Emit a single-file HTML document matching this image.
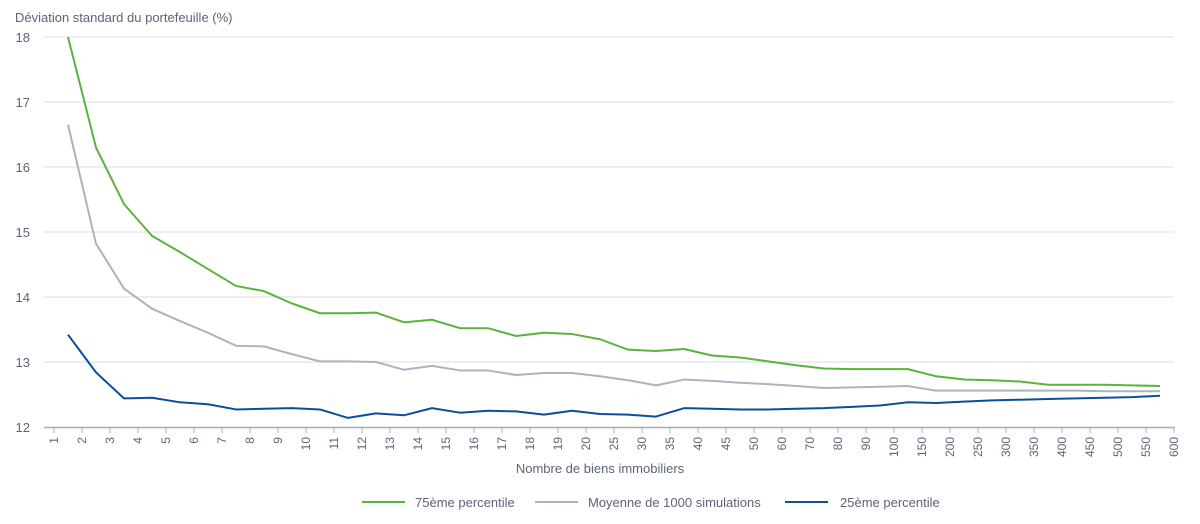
<!DOCTYPE html>
<html><head><meta charset="utf-8"><style>
body{margin:0;background:#fff;font-family:"Liberation Sans",sans-serif}
svg text{font-family:"Liberation Sans",sans-serif;fill:#5b6478}
</style></head><body>
<svg id="c" width="1200" height="519">
<text x="15" y="22" font-size="13">Déviation standard du portefeuille (%)</text>
<text x="600" y="473" font-size="13" text-anchor="middle">Nombre de biens immobiliers</text>
<g id="grid"></g><g id="xt"></g><g id="lines"></g>
<g>
<line x1="362" y1="502" x2="405" y2="502" stroke="#5bb33e" stroke-width="2"/>
<text x="415" y="507" font-size="13">75ème percentile</text>
<line x1="535" y1="502" x2="578" y2="502" stroke="#a9b4bd" stroke-width="2"/>
<text x="588" y="507" font-size="13">Moyenne de 1000 simulations</text>
<line x1="785" y1="502" x2="828" y2="502" stroke="#0a4f9c" stroke-width="2"/>
<text x="840" y="507" font-size="13">25ème percentile</text>
</g>
</svg>
<script>
const xLabels=["1","2","3","4","5","6","7","8","9","10","11","12","13","14","15","16","17","18","19","20","25","30","35","40","45","50","60","70","80","90","100","150","200","250","300","350","400","450","500","550","600"];
const yTicks=[12,13,14,15,16,17,18];
const p75=[18.0,16.3,15.43,14.94,14.69,14.43,14.17,14.09,13.9,13.75,13.75,13.76,13.61,13.65,13.52,13.52,13.4,13.45,13.43,13.35,13.19,13.17,13.2,13.1,13.07,13.01,12.95,12.9,12.89,12.89,12.89,12.78,12.73,12.72,12.7,12.65,12.65,12.65,12.64,12.63];
const mean=[16.65,14.82,14.13,13.82,13.63,13.45,13.25,13.24,13.12,13.01,13.01,13.0,12.88,12.94,12.87,12.87,12.8,12.83,12.83,12.78,12.72,12.64,12.73,12.71,12.68,12.66,12.63,12.6,12.61,12.62,12.63,12.56,12.56,12.56,12.56,12.56,12.56,12.55,12.55,12.55];
const p25=[13.42,12.84,12.44,12.45,12.38,12.35,12.27,12.28,12.29,12.27,12.14,12.21,12.18,12.29,12.22,12.25,12.24,12.19,12.25,12.2,12.19,12.16,12.29,12.28,12.27,12.27,12.28,12.29,12.31,12.33,12.38,12.37,12.39,12.41,12.42,12.43,12.44,12.45,12.46,12.48];
const NS="http://www.w3.org/2000/svg";
const x0=54,step=(1174-54)/(xLabels.length-1);
const X=i=>x0+step*(i+0.5), XT=i=>x0+step*i;
const Y=v=>427-(v-12)*65;
function mk(t,a,p){const e=document.createElementNS(NS,t);for(const k in a)e.setAttribute(k,a[k]);p.appendChild(e);return e;}
const grid=document.getElementById('grid');
yTicks.forEach(v=>{
 if(v>12){const l=mk('line',{x1:44,x2:1174,y1:Y(v),y2:Y(v),stroke:'#d9dcdf','stroke-width':1},grid);
 
 }
 const t=mk('text',{x:30,y:Y(v)+5,'font-size':13,'text-anchor':'end'},grid);t.textContent=v;
 
 
});
const ax=mk('line',{x1:44,x2:1175,y1:427.5,y2:427.5,stroke:'#a8adb3','stroke-width':1.5},grid);


const xt=document.getElementById('xt');
xLabels.forEach((s,i)=>{
 const x=XT(i);
 mk('line',{x1:x,x2:x,y1:427,y2:433,stroke:'#a8adb3'},xt);
 const t=mk('text',{x:0,y:0,'font-size':12,'text-anchor':'end',transform:`translate(${x+4},${437}) rotate(-90)`},xt);
 t.textContent=s;
 
 
});
const lines=document.getElementById('lines');
[[mean,'#a9b4bd','series-mean'],[p75,'#5bb33e','series-75th-percentile'],[p25,'#0a4f9c','series-25th-percentile']].forEach(([d,c,n])=>{
 const p=mk('polyline',{points:d.map((v,i)=>X(i)+','+Math.max(Y(v),36)).join(' '),fill:'none',stroke:c,'stroke-width':2,'stroke-linejoin':'round'},lines);
 
 
});
</script>
</body></html>
